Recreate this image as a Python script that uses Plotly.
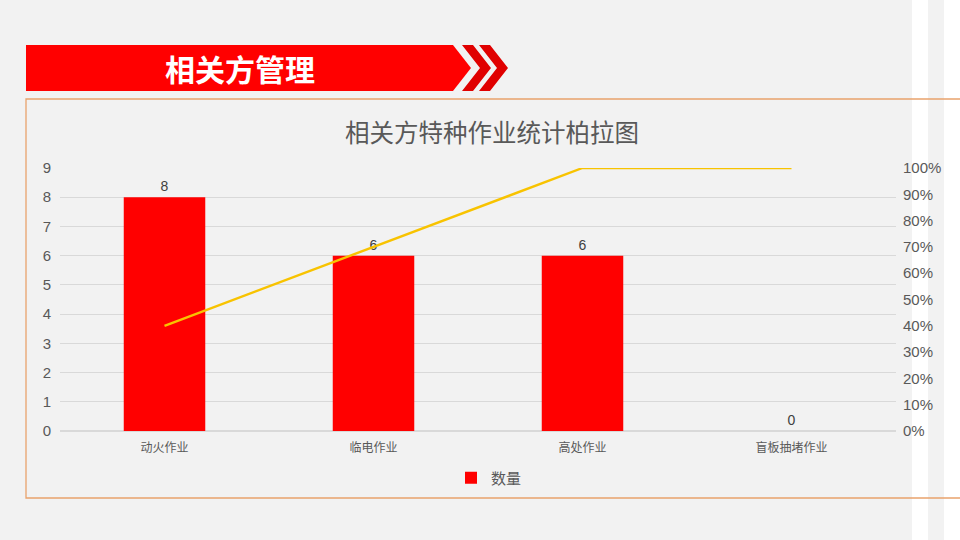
import plotly.graph_objects as go

# data
categories = ["动火作业", "临电作业", "高处作业", "盲板抽堵作业"]
counts = [8, 6, 6, 0]
cumulative_pct = [0.4, 0.7, 1.0, 1.0]

W, H = 960, 540
cjk = "Noto Sans CJK SC"
latin = "Liberation Sans, Arial, Noto Sans CJK SC"
grey = "#595959"


def px(x):
    return x / W


def py(y):
    return 1 - y / H


def poly(points):
    d = "M " + " L ".join("{:.5f},{:.5f}".format(px(a), py(b)) for a, b in points) + " Z"
    return d


fig = go.Figure()

fig.add_trace(go.Bar(
    x=categories, y=counts, name="数量",
    marker=dict(color="#FF0000", line=dict(width=0)),
    width=0.39,
    text=counts, textposition="outside",
    textfont=dict(family=latin, size=14, color="#404040"),
    cliponaxis=False,
))

fig.add_trace(go.Scatter(
    x=categories, y=cumulative_pct, yaxis="y2", mode="lines",
    line=dict(color="#F8C300", width=2.4),
    showlegend=False,
))

shapes = []
# white stripes at the right edge
shapes.append(dict(type="rect", xref="paper", yref="paper", x0=px(912), x1=px(928), y0=0, y1=1,
                   fillcolor="#FFFFFF", line=dict(width=0), layer="below"))
shapes.append(dict(type="rect", xref="paper", yref="paper", x0=px(944), x1=px(960), y0=0, y1=1,
                   fillcolor="#FFFFFF", line=dict(width=0), layer="below"))
# orange frame (right side runs off the page)
shapes.append(dict(type="rect", xref="paper", yref="paper", x0=px(26), x1=px(975), y0=py(498), y1=py(99),
                   fillcolor="rgba(0,0,0,0)", line=dict(color="#E9A26C", width=1.3), layer="below"))
# red header banner with chevrons
top, mid, bot = 45, 68, 91
shapes.append(dict(type="path", xref="paper", yref="paper",
                   path=poly([(26, top), (453, top), (471, mid), (453, bot), (26, bot)]),
                   fillcolor="#FF0000", line=dict(width=0), layer="below"))
for x0 in [462, 479]:
    shapes.append(dict(type="path", xref="paper", yref="paper",
                       path=poly([(x0, top), (x0 + 11, top), (x0 + 29, mid), (x0 + 11, bot), (x0, bot), (x0 + 18, mid)]),
                       fillcolor="#E00000", line=dict(width=0), layer="below"))

annotations = [
    dict(text="<b>相关方管理</b>", x=px(240), y=py(68), xref="paper", yref="paper",
         xanchor="center", yanchor="middle",
         showarrow=False, font=dict(family=cjk, size=30, color="#FFFFFF")),
    dict(text="相关方特种作业统计柏拉图", x=px(492), y=py(131), xref="paper", yref="paper",
         xanchor="center", yanchor="middle",
         showarrow=False, font=dict(family=cjk, size=24.5, color=grey)),
]

fig.update_layout(
    width=W, height=H, autosize=False,
    margin=dict(l=0, r=0, t=0, b=0),
    paper_bgcolor="#F2F2F2", plot_bgcolor="rgba(0,0,0,0)",
    font=dict(family=latin, color=grey),
    xaxis=dict(domain=[px(60), px(896)], showgrid=False, showline=False, ticks="",
               tickfont=dict(family=cjk, size=12, color=grey), automargin=False,
               ticklabelstandoff=8),
    yaxis=dict(domain=[py(431), py(168)], range=[0, 9], dtick=1, showline=False,
               gridcolor="#D9D9D9", gridwidth=1, zeroline=True, zerolinecolor="#D9D9D9",
               tickfont=dict(size=15, color=grey), automargin=False, ticklabelstandoff=8),
    yaxis2=dict(overlaying="y", side="right", range=[0, 1], dtick=0.1, tickformat=".0%",
                showgrid=False, zeroline=False, showline=False,
                tickfont=dict(size=15, color=grey), automargin=False, ticklabelstandoff=6),
    legend=dict(orientation="h", x=px(451), y=py(478), xanchor="left", yanchor="middle",
                font=dict(family=cjk, size=15, color=grey), bgcolor="rgba(0,0,0,0)"),
    showlegend=True,
    bargap=0.61,
    shapes=shapes,
    annotations=annotations,
)

fig.write_html("out.html", config={"displayModeBar": False},
               post_script="document.body.style.margin='0';")
